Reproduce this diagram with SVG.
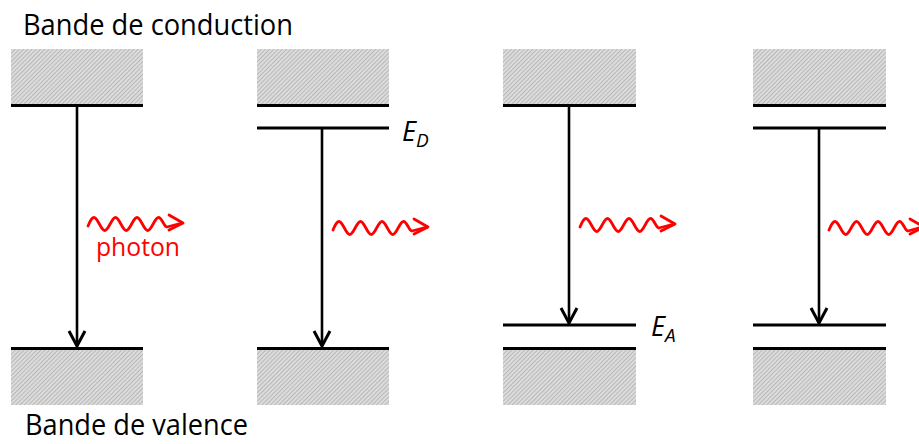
<svg xmlns="http://www.w3.org/2000/svg" xmlns:xlink="http://www.w3.org/1999/xlink" width="919" height="444" viewBox="0 0 919 444">
<style>
.band{fill:url(#hatch)}
.lvl{stroke:#000;stroke-width:3;fill:none}
.tr{stroke:#000;stroke-width:2.6;fill:none}
.head{stroke:#000;stroke-width:3;fill:none;stroke-linejoin:miter}
.wave{stroke:#ff0000;stroke-width:2.8;fill:none;stroke-linecap:round;stroke-linejoin:round}
.lab{font-family:"Open Sans","DejaVu Sans",sans-serif;font-size:29px;fill:#000}
.it{font-family:"Open Sans","DejaVu Sans",sans-serif;font-style:italic;fill:#000}
.ph{font-family:"Open Sans","DejaVu Sans",sans-serif;font-size:25px;fill:#ff0000}
</style>
<defs>
<pattern id="hatch" patternUnits="userSpaceOnUse" width="3" height="3" patternTransform="rotate(45)">
<rect width="3" height="3" fill="#dcdcdc"/>
<rect width="1" height="3" fill="#b8b8b8"/>
</pattern>
<g id="photon">
<path class="wave" d="M0,2 C2,-3 4,-6.5 6,-6.5 C9.87,-6.5 12.88,6.5 16.75,6.5 C20.62,6.5 23.63,-6.5 27.5,-6.5 C31.37,-6.5 34.38,6.5 38.25,6.5 C42.12,6.5 45.13,-6.5 49,-6.5 C52.87,-6.5 55.88,6.5 59.75,6.5 C63.62,6.5 66.63,-6.5 70.5,-6.5 C74,-6.5 76,3 79,3 L94,-1"/>
<path class="wave" d="M81,-9 L95,-1 L81,6"/>
</g>
</defs>
<rect width="919" height="444" fill="#fff"/>

<text class="lab" x="23" y="35" textLength="270" lengthAdjust="spacingAndGlyphs">Bande de conduction</text>
<text class="lab" x="25" y="435" textLength="223" lengthAdjust="spacingAndGlyphs">Bande de valence</text>

<g id="panel1">
<rect class="band" x="11" y="49" width="132" height="56"/>
<line class="lvl" x1="11" y1="105.5" x2="143" y2="105.5"/>
<line class="lvl" x1="11" y1="348.5" x2="143" y2="348.5"/>
<rect class="band" x="11" y="350" width="132" height="55"/>
<use xlink:href="#photon" x="88" y="224"/>
<text class="ph" x="96" y="256" textLength="84" lengthAdjust="spacingAndGlyphs">photon</text>
</g>

<g id="panel2">
<rect class="band" x="257" y="49" width="132" height="56"/>
<line class="lvl" x1="257" y1="105.5" x2="389" y2="105.5"/>
<line class="lvl" x1="257" y1="128" x2="389" y2="128"/>
<text class="it" x="402" y="141" font-size="27">E<tspan dy="6" font-size="19">D</tspan></text>
<line class="lvl" x1="257" y1="348.5" x2="389" y2="348.5"/>
<rect class="band" x="257" y="350" width="132" height="55"/>
<use xlink:href="#photon" x="333" y="228"/>
</g>

<g id="panel3">
<rect class="band" x="503" y="49" width="133" height="56"/>
<line class="lvl" x1="503" y1="105.5" x2="636" y2="105.5"/>
<line class="lvl" x1="503" y1="325" x2="636" y2="325"/>
<text class="it" x="651" y="336" font-size="27">E<tspan dy="6" font-size="19">A</tspan></text>
<line class="lvl" x1="503" y1="348.5" x2="636" y2="348.5"/>
<rect class="band" x="503" y="350" width="133" height="55"/>
<use xlink:href="#photon" x="580" y="225"/>
</g>

<g id="panel4">
<rect class="band" x="753" y="49" width="133" height="56"/>
<line class="lvl" x1="753" y1="105.5" x2="886" y2="105.5"/>
<line class="lvl" x1="753" y1="128" x2="886" y2="128"/>
<line class="lvl" x1="753" y1="325" x2="886" y2="325"/>
<line class="lvl" x1="753" y1="348.5" x2="886" y2="348.5"/>
<rect class="band" x="753" y="350" width="133" height="55"/>
<use xlink:href="#photon" x="829" y="228"/>
</g>

<g id="connectors">
<line class="tr" x1="77" y1="107" x2="77" y2="346"/>
<path class="head" d="M69,331 L77,346 L85,331"/>
<line class="tr" x1="322" y1="129" x2="322" y2="346"/>
<path class="head" d="M314,331 L322,346 L330,331"/>
<line class="tr" x1="569" y1="107" x2="569" y2="323"/>
<path class="head" d="M561,308 L569,323 L577,308"/>
<line class="tr" x1="819" y1="129" x2="819" y2="323"/>
<path class="head" d="M811,308 L819,323 L827,308"/>
</g>
</svg>
